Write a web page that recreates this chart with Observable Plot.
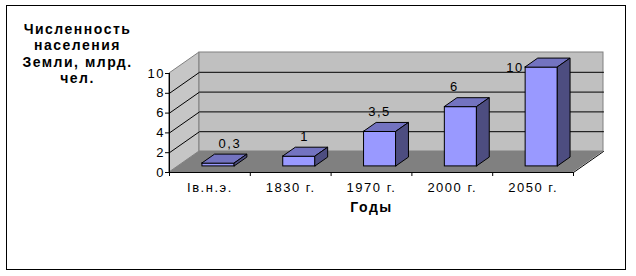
<!DOCTYPE html>
<html><head><meta charset="utf-8">
<script src="https://cdn.jsdelivr.net/npm/d3@7"></script>
<script src="https://cdn.jsdelivr.net/npm/@observablehq/plot@0.6"></script>
<style>
body{margin:0;background:#fff;}
#wrap{position:relative;width:636px;height:276px;overflow:hidden;background:#fff;}
#border{position:absolute;left:6px;top:5px;width:620px;height:265px;box-sizing:border-box;border:1px solid #000;pointer-events:none;}
</style></head><body>
<div id="wrap"><div id="border"></div></div>
<script>
// ---- data ----
const categories = ["Iв.н.э.", "1830 г.", "1970 г.", "2000 г.", "2050 г."];
const population = [0.3, 1, 3.5, 6, 10];
const valueLabels = ["0,3", "1", "3,5", "6", "10"];
const yTicks = [0, 2, 4, 6, 8, 10];
const gridValues = [2, 4, 6, 8];
const xTitle = "Годы";
const yTitle = "Численность\nнаселения\nЗемли, млрд.\nчел.";

// ---- layout / pseudo-3D projection ----
const W = 636, H = 276, mL = 169, mR = 63, mT = 73, mB = 104;
const n = categories.length, yMax = 10;
const pxX = (W - mL - mR) / n, pxY = (H - mT - mB) / yMax;
const DX = 30 / pxX, DY = 21 / pxY;          // depth vector in data units
const F = 0.29, B = 0.71, HALF = 0.2;        // bar front/back depth, half width
const LIFT = 2;                               // label lift in value units

const bars = population.map((v, i) => ({
  i, v, L: i + 0.5 - HALF, R: i + 0.5 + HALF, label: valueLabels[i],
  clamped: v + LIFT > yMax, ly: Math.min(v + LIFT, yMax)
}));
const fronts = bars.map(b => ({i: b.i, x1: b.L + F * DX, x2: b.R + F * DX, y1: F * DY, y2: b.v + F * DY}));
const tops = bars.flatMap(b => [F, B].map(t => ({i: b.i, y: b.v + t * DY, x1: b.L + t * DX, x2: b.R + t * DX})));
const sides = bars.flatMap(b => [F, B].map(t => ({i: b.i, x: b.R + t * DX, y1: t * DY, y2: b.v + t * DY})));
const sideWall = [{x: 0, y1: 0, y2: yMax}, {x: DX, y1: DY, y2: yMax + DY}];
const backWall = [{x1: DX, x2: n + DX, y1: DY, y2: yMax + DY}];
const floor = [{y: 0, x1: 0, x2: n}, {y: DY, x1: DX, x2: n + DX}];
const grid = gridValues.flatMap(v => [{v, x: 0, y: v}, {v, x: DX, y: v + DY}, {v, x: n + DX, y: v + DY}]);
const floorEdge = [{x: n, y: 0}, {x: n + DX, y: DY}];
const boundaries = d3.range(n + 1);
const centers = categories.map((c, i) => i + 0.5);

const chart = Plot.plot({
  width: W, height: H,
  marginLeft: mL, marginRight: mR, marginTop: mT, marginBottom: mB,
  x: {domain: [0, n]},
  y: {domain: [0, yMax]},
  style: {fontFamily: '"Liberation Sans", Arial, sans-serif', fontSize: "13px", letterSpacing: "1.5px", color: "#000", background: "#fff"},
  marks: [
    Plot.areaY(sideWall, {x: "x", y1: "y1", y2: "y2", fill: "#c6c6c6", stroke: "#808080", strokeWidth: 1}),
    Plot.rect(backWall, {x1: "x1", x2: "x2", y1: "y1", y2: "y2", fill: "#c0c0c0", stroke: "#808080", strokeWidth: 1}),
    Plot.areaX(floor, {y: "y", x1: "x1", x2: "x2", fill: "#808080"}),
    Plot.line(grid, {x: "x", y: "y", z: "v", stroke: "#000", strokeWidth: 1}),
    Plot.line(floorEdge, {x: "x", y: "y", stroke: "#000", strokeWidth: 1}),
    Plot.ruleX([0], {y1: 0, y2: yMax, stroke: "#000"}),
    Plot.ruleY([0], {x1: 0, x2: n, stroke: "#000"}),
    Plot.axisY(yTicks, {tickSize: 4, tickPadding: 0.5, label: null, fontSize: 13}),
    Plot.axisX(boundaries, {tickSize: 4, tickFormat: () => "", label: null}),
    Plot.axisX(centers, {tickSize: 0, tickPadding: 10, tickFormat: d => categories[Math.floor(d)], label: null, fontSize: 13}),
    Plot.rect(fronts, {x1: "x1", x2: "x2", y1: "y1", y2: "y2", fill: "#9999ff", stroke: "#000", strokeWidth: 1}),
    Plot.areaX(tops, {y: "y", x1: "x1", x2: "x2", z: "i", fill: "#7373c0", stroke: "#000", strokeWidth: 1}),
    Plot.areaY(sides, {x: "x", y1: "y1", y2: "y2", z: "i", fill: "#4d4d80", stroke: "#000", strokeWidth: 1}),
    Plot.text(bars.filter(b => !b.clamped), {
      x: b => b.i + 0.5 + (20 - 6 * b.i) / pxX, y: b => b.ly + F * DY,
      text: "label", fontSize: 13, fill: "#000"
    }),
    Plot.text(bars.filter(b => b.clamped), {
      x: b => b.L + F * DX, y: b => b.ly + F * DY, dx: -2,
      text: "label", textAnchor: "end", fontSize: 13, fill: "#000"
    }),
    Plot.text([xTitle], {text: d => d, frameAnchor: "bottom", lineAnchor: "top", dy: 30, fontWeight: "bold", fontSize: 14}),
    Plot.text([yTitle], {text: d => d, frameAnchor: "top-left", dx: -92, dy: -51, textAnchor: "middle", lineAnchor: "top", lineHeight: 1.165, fontWeight: "bold", fontSize: 14})
  ]
});
const wrap = document.getElementById("wrap");
wrap.insertBefore(chart, document.getElementById("border"));
</script>
</body></html>
